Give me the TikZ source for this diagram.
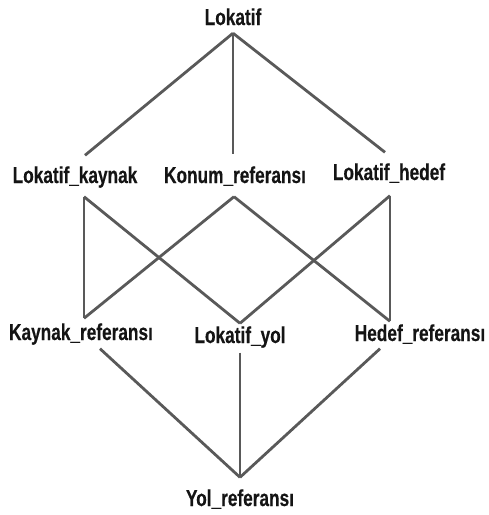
\documentclass[tikz,border=0pt]{standalone}
\usepackage{fontspec}
\setmainfont{Liberation Sans}
\newfontfamily\condfont[FakeStretch=0.75,FakeBold=0.4]{Liberation Sans Bold}
\begin{document}
\begin{tikzpicture}[x=1pt,y=-1pt,
  lbl/.style={font=\condfont\fontsize{23}{23}\selectfont, text=black!92, text height=16pt, text depth=0pt, inner xsep=0pt, inner ysep=0pt},
  edge/.style={draw=black!65, line width=2.8pt}]
\useasboundingbox (0,0) rectangle (489,515);
\node[lbl] (lok) at (233,17) {Lokatif};
\node[lbl] (lk) at (75,175) {Lokatif\_kaynak};
\node[lbl] (kr) at (235,175) {Konum\_referansı};
\node[lbl] (lh) at (389,172) {Lokatif\_hedef};
\node[lbl] (kyr) at (81,332) {Kaynak\_referansı};
\node[lbl] (ly) at (240,335) {Lokatif\_yol};
\node[lbl] (hr) at (420,333) {Hedef\_referansı};
\node[lbl] (yr) at (240,498) {Yol\_referansı};
% top level
\coordinate (lokS) at ([yshift=-8pt]lok.south);
\draw[edge] (lokS) -- ([xshift=10pt,yshift=11.5pt]lk.north);
\draw[edge] (lokS) -- ([xshift=-2pt,yshift=12.5pt]kr.north);
\draw[edge] (lokS) -- ([xshift=-4pt,yshift=11.5pt]lh.north);
% middle crossings
\coordinate (lkS) at ([xshift=9pt,yshift=-13.5pt]lk.south);
\coordinate (krS) at ([xshift=-1pt,yshift=-13.5pt]kr.south);
\coordinate (lhS) at ([xshift=1pt,yshift=-15.5pt]lh.south);
\coordinate (kyrN) at ([xshift=3pt,yshift=5.5pt]kyr.north);
\coordinate (lyN) at ([yshift=3.5pt]ly.north);
\coordinate (hrN) at ([xshift=-30pt,yshift=3.5pt]hr.north);
\draw[edge] (lkS) -- (kyrN);
\draw[edge] (lkS) -- (lyN);
\draw[edge] (krS) -- (kyrN);
\draw[edge] (krS) -- (hrN);
\draw[edge] (lhS) -- (lyN);
\draw[edge] (lhS) -- (hrN);
% bottom
\coordinate (yrN) at ([yshift=12.5pt]yr.north);
\draw[edge] ([xshift=19pt,yshift=-8.5pt]kyr.south) -- (yrN);
\draw[edge] ([yshift=-9.5pt]ly.south) -- (yrN);
\draw[edge] ([xshift=-40pt,yshift=-7.5pt]hr.south) -- (yrN);
\end{tikzpicture}
\end{document}
